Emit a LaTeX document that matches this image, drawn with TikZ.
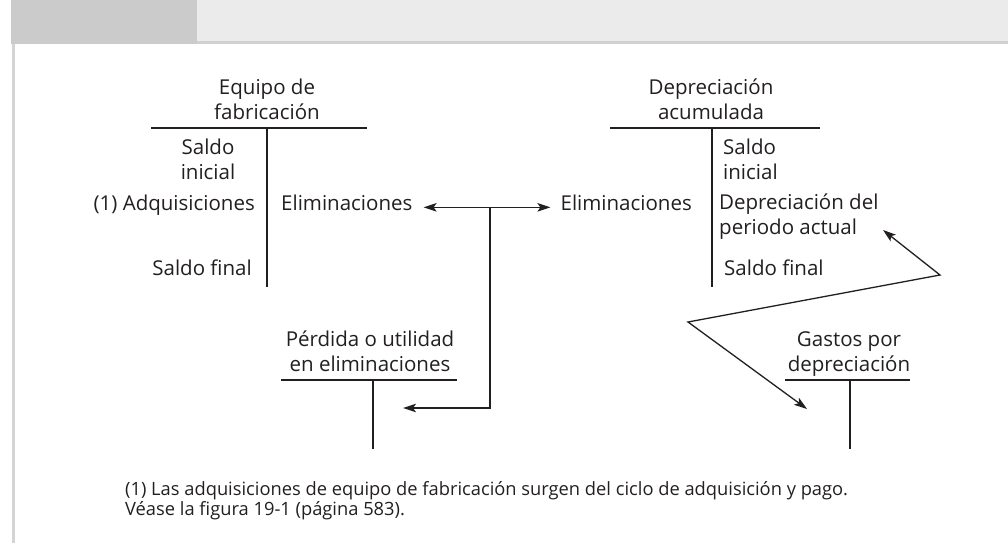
\documentclass[tikz,border=0pt]{standalone}
\usepackage{fontspec}
\setmainfont{Open Sans}
\usepackage{xcolor}
\usepackage{tikz}
\usetikzlibrary{arrows.meta,positioning,calc}
\definecolor{ink}{HTML}{231F20}
\definecolor{hdrdark}{HTML}{CBCBCB}
\definecolor{hdrlight}{HTML}{EBEBEB}
\definecolor{hdrrule}{HTML}{D0D0D0}
\definecolor{framegray}{HTML}{D4D4D4}

\begin{document}
\begin{tikzpicture}[x=1pt, y=-1pt,
  acct/.style={inner sep=0pt, text=ink, font=\fontsize{20.5}{25}\selectfont},
  ttl/.style={acct, align=center, anchor=south, text depth=0pt},
  entry/.style={acct, anchor=base west},
  tline/.style={ink, line width=1.7pt},
  ptr/.style={ink, line width=1.3pt, >={Stealth[length=13pt,width=8.5pt,inset=3pt]}}
]
\useasboundingbox (0,0) rectangle (1008,543);
\fill[hdrlight] (197,0) rectangle (1008,41);
\fill[hdrrule] (197,41) rectangle (1008,44);
\fill[hdrdark] (11,0) rectangle (197,44);
\fill[framegray] (12,44) rectangle (15,543);

\node[ttl] (eqTitle) at (267,120) {Equipo de\\fabricación};
\node[ttl] (eqSaldoIni) at (208,180) {Saldo\\inicial};
\node[acct, anchor=base east] (eqAdq) at (255,210) {(1) Adquisiciones};
\node[entry] (eqElim) at (281,210) {Eliminaciones};
\node[acct, anchor=base east] (eqSaldoFin) at (252,275) {Saldo final};
\draw[tline] (151,128) -- (367,128);
\draw[tline] (267,128) -- (267,287);

\node[ttl] (depTitle) at (711,120) {Depreciación\\acumulada};
\node[ttl, align=left, anchor=south west] (depSaldoIni) at (723,180) {Saldo\\inicial};
\node[acct, anchor=base east] (depElim) at (692,210) {Eliminaciones};
\node[ttl, align=left, anchor=south west] (depAct) at (719,235) {Depreciación del\\periodo actual};
\node[entry] (depSaldoFin) at (724,275) {Saldo final};
\draw[tline] (610,128) -- (820,128);
\draw[tline] (712,128) -- (712,287);

\node[ttl] (perdTitle) at (370,372) {Pérdida o utilidad\\en eliminaciones};
\draw[tline] (281,380) -- (457,380);
\draw[tline] (373,380) -- (373,449);

\node[ttl] (gasTitle) at (849,372) {Gastos por\\depreciación};
\draw[tline] (785,380) -- (910,380);
\draw[tline] (850,380) -- (850,449);

\coordinate (jx) at (490,0);
\coordinate (perdTip) at (403,408);
\draw[ptr,<->,shorten <=11pt,shorten >=10pt] (eqElim.mid east) -- (depElim.mid west);
\draw[ptr,->] (eqElim.mid east -| jx) |- (perdTip);

\coordinate (actTip) at (883,230);
\coordinate (bendA) at (940,275);
\coordinate (bendB) at (688,322);
\coordinate (gasTip) at (807,409);
\draw[ptr,<->] (actTip) -- (bendA) -- (bendB) -- (gasTip);

\node[ttl, font=\fontsize{18.3}{20}\selectfont, align=left, anchor=south west] (note) at (125,516)
  {(1) Las adquisiciones de equipo de fabricación surgen del ciclo de adquisición y pago.\\Véase la figura 19-1 (página 583).};
\end{tikzpicture}
\end{document}
